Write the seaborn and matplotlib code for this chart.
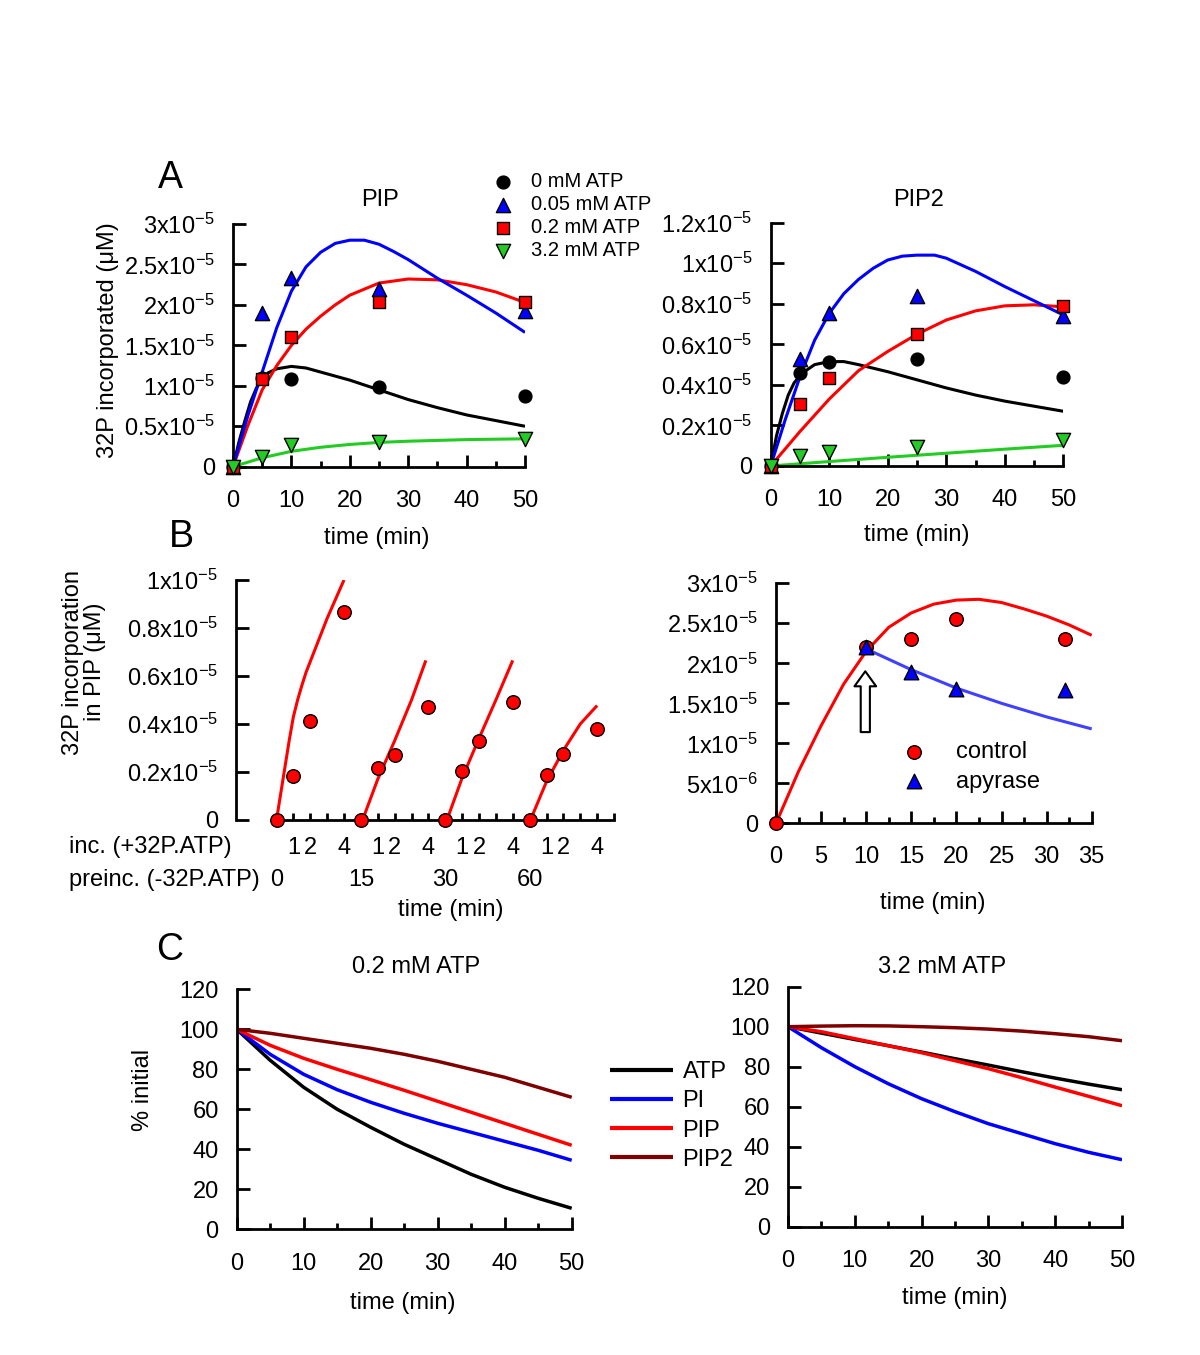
import matplotlib
matplotlib.use("Agg")
import matplotlib.pyplot as plt
import matplotlib.transforms as mtransforms
from matplotlib.ticker import MultipleLocator
import numpy as np
import seaborn as sns

# ======================= DATA =======================
E5 = 1e-5  # values below are in units of 1x10^-5 uM

# ---- Panel A (PIP / PIP2 time course at four ATP levels) ----
a_times = [0, 5, 10, 25, 50]
atp_labels = ["0 mM ATP", "0.05 mM ATP", "0.2 mM ATP", "3.2 mM ATP"]

pip_pts_0 = [0, 1.10, 1.09, 0.99, 0.87]
pip_pts_005 = [0, 1.90, 2.33, 2.20, 1.92]
pip_pts_02 = [0, 1.08, 1.60, 2.03, 2.03]
pip_pts_32 = [0, 0.12, 0.27, 0.31, 0.34]

pip_fit_0_t = [0, 1, 2, 3, 4, 5, 6, 7.5, 10, 12.5, 15, 20, 25, 30, 35, 40, 45, 50]
pip_fit_0 = [0, 0.30, 0.56, 0.80, 0.97, 1.09, 1.16, 1.21, 1.24, 1.22, 1.17, 1.07, 0.95, 0.83, 0.73, 0.64, 0.57, 0.50]
pip_fit_005_t = [0, 2.5, 5, 7.5, 10, 12.5, 15, 17.5, 20, 22.5, 25, 27.5, 30, 35, 40, 45, 50]
pip_fit_005 = [0, 0.62, 1.17, 1.72, 2.17, 2.47, 2.65, 2.76, 2.80, 2.80, 2.75, 2.66, 2.56, 2.33, 2.12, 1.90, 1.66]
pip_fit_02_t = [0, 2.5, 5, 7.5, 10, 12.5, 15, 17.5, 20, 25, 30, 35, 40, 45, 50]
pip_fit_02 = [0, 0.50, 0.95, 1.25, 1.50, 1.70, 1.86, 2.00, 2.12, 2.27, 2.32, 2.31, 2.25, 2.16, 2.03]
pip_fit_32_t = [0, 5, 10, 15, 20, 25, 30, 35, 40, 45, 50]
pip_fit_32 = [0, 0.11, 0.19, 0.24, 0.275, 0.30, 0.315, 0.325, 0.335, 0.34, 0.345]

pip2_pts_0 = [0, 0.457, 0.515, 0.528, 0.437]
pip2_pts_005 = [0, 0.526, 0.756, 0.838, 0.740]
pip2_pts_02 = [0, 0.306, 0.434, 0.651, 0.789]
pip2_pts_32 = [0, 0.050, 0.070, 0.092, 0.128]

pip2_fit_0_t = [0, 1, 2, 3, 4, 5, 6, 7.5, 10, 12.5, 15, 20, 25, 30, 35, 40, 45, 50]
pip2_fit_0 = [0, 0.15, 0.26, 0.35, 0.41, 0.445, 0.47, 0.50, 0.515, 0.515, 0.50, 0.465, 0.425, 0.385, 0.35, 0.32, 0.295, 0.27]
pip2_fit_005_t = [0, 2.5, 5, 7.5, 10, 12.5, 15, 17.5, 20, 22.5, 25, 28, 30, 35, 40, 45, 50]
pip2_fit_005 = [0, 0.23, 0.44, 0.62, 0.753, 0.85, 0.92, 0.975, 1.016, 1.035, 1.04, 1.04, 1.025, 0.96, 0.885, 0.815, 0.745]
pip2_fit_02_t = [0, 5, 10, 15, 20, 25, 30, 35, 40, 45, 50]
pip2_fit_02 = [0, 0.17, 0.33, 0.47, 0.565, 0.65, 0.72, 0.765, 0.79, 0.795, 0.785]
pip2_fit_32_t = [0, 10, 20, 30, 40, 50]
pip2_fit_32 = [0, 0.022, 0.043, 0.063, 0.083, 0.102]

a1_yticks = [0, 0.5, 1, 1.5, 2, 2.5, 3]
a1_yticklabels = ["0", "0.5x10$^{-5}$", "1x10$^{-5}$", "1.5x10$^{-5}$",
                  "2x10$^{-5}$", "2.5x10$^{-5}$", "3x10$^{-5}$"]
a2_yticks = [0, 0.2, 0.4, 0.6, 0.8, 1.0, 1.2]
a2_yticklabels = ["0", "0.2x10$^{-5}$", "0.4x10$^{-5}$", "0.6x10$^{-5}$",
                  "0.8x10$^{-5}$", "1x10$^{-5}$", "1.2x10$^{-5}$"]

# ---- Panel B left (preincubation without label, then +32P-ATP) ----
b1_g1_t = [0, 1, 2, 4]
b1_g1 = [0, 0.182, 0.413, 0.867]
b1_g2_t = [5, 6, 7, 9]
b1_g2 = [0, 0.217, 0.270, 0.471]
b1_g3_t = [10, 11, 12, 14]
b1_g3 = [0, 0.206, 0.329, 0.490]
b1_g4_t = [15, 16, 17, 19]
b1_g4 = [0, 0.189, 0.273, 0.378]

b1_fit1_t = [0, 0.25, 0.5, 0.75, 1, 1.25, 1.5, 1.75, 2, 2.5, 3, 3.5, 4]
b1_fit1 = [0, 0.11, 0.22, 0.33, 0.43, 0.50, 0.56, 0.615, 0.66, 0.75, 0.84, 0.92, 1.00]
b1_fit2_t = [5.1, 6, 7, 8, 8.85]
b1_fit2 = [0, 0.17, 0.33, 0.50, 0.665]
b1_fit3_t = [10.1, 11, 12, 13, 14]
b1_fit3 = [0, 0.175, 0.34, 0.50, 0.665]
b1_fit4_t = [15.05, 16, 17, 18, 19]
b1_fit4 = [0, 0.16, 0.29, 0.40, 0.477]

b1_xticks = list(range(0, 21))
b1_inc_labels = ["", "1", "2", "", "4", "", "1", "2", "", "4", "",
                 "1", "2", "", "4", "", "1", "2", "", "4", ""]
b1_preinc_pos = [0, 5, 10, 15]
b1_preinc_labels = ["0", "15", "30", "60"]
b1_yticks = [0, 0.2, 0.4, 0.6, 0.8, 1.0]
b1_yticklabels = ["0", "0.2x10$^{-5}$", "0.4x10$^{-5}$", "0.6x10$^{-5}$",
                  "0.8x10$^{-5}$", "1x10$^{-5}$"]

# ---- Panel B right (control vs apyrase) ----
b2_control_t = [0, 10, 15, 20, 32]
b2_control = [0, 2.20, 2.30, 2.55, 2.30]
b2_apyrase_t = [10, 15, 20, 32]
b2_apyrase = [2.20, 1.89, 1.68, 1.66]
b2_fit_control_t = [0, 2.5, 5, 7.5, 10, 12.5, 15, 17.5, 20, 22.5, 25, 27.5, 30, 32.5, 35]
b2_fit_control = [0, 0.65, 1.22, 1.74, 2.15, 2.45, 2.63, 2.74, 2.79, 2.80, 2.76, 2.68, 2.59, 2.48, 2.35]
b2_fit_apyrase_t = [10, 15, 20, 25, 30, 35]
b2_fit_apyrase = [2.18, 1.92, 1.69, 1.50, 1.33, 1.18]
b2_arrow_x = 9.9
b2_arrow_from = 1.14
b2_arrow_to = 1.90
b2_yticks = [0, 0.5, 1, 1.5, 2, 2.5, 3]
b2_yticklabels = ["0", "5x10$^{-6}$", "1x10$^{-5}$", "1.5x10$^{-5}$",
                  "2x10$^{-5}$", "2.5x10$^{-5}$", "3x10$^{-5}$"]

# ---- Panel C (% of initial) ----
c_t = [0, 5, 10, 15, 20, 25, 30, 35, 40, 45, 50]
species = ["ATP", "PI", "PIP", "PIP2"]
c02_atp = [100, 84.5, 71, 60, 51, 42.5, 35, 27.5, 21, 15.5, 10.5]
c02_pi = [100, 87.5, 77.5, 69.8, 63.5, 58, 53, 48.5, 44, 39.5, 34.5]
c02_pip = [100, 92, 85.5, 80, 74.8, 69.5, 64, 58.5, 53, 47.5, 42]
c02_pip2 = [100, 98, 95.5, 93, 90.5, 87.5, 84, 80, 76, 71, 66]
c32_atp = [100, 96.8, 93.6, 90.5, 87.3, 84, 80.8, 77.5, 74.3, 71.3, 68.5]
c32_pi = [100, 89.5, 80, 71.5, 64, 57.5, 51.5, 46.5, 41.5, 37.2, 33.5]
c32_pip = [100, 97.5, 94, 90.5, 87, 83, 79, 74.5, 69.8, 65.2, 60.5]
c32_pip2 = [100, 100.3, 100.5, 100.4, 100, 99.5, 98.8, 97.8, 96.5, 95, 93]
c_yticks = [0, 20, 40, 60, 80, 100, 120]

# ======================= STYLE =======================
sns.set_theme(style="ticks")
plt.rcParams.update({
    "font.family": ["Liberation Sans", "DejaVu Sans"],
    "mathtext.fontset": "custom",
    "mathtext.rm": "Liberation Sans",
    "mathtext.it": "Liberation Sans:italic",
    "mathtext.bf": "Liberation Sans:bold",
    "mathtext.default": "regular",
    "axes.linewidth": 2,
    "font.size": 17,
    "text.color": "black",
    "axes.labelcolor": "black",
    "xtick.color": "black",
    "ytick.color": "black",
    "axes.unicode_minus": True,
    "lines.solid_joinstyle": "round",
    "lines.solid_capstyle": "butt",
})
FS = 17
BLACK, BLUE, RED, GREEN, DARKRED = "#000000", "#0000ff", "#ff0000", "#22cc22", "#7f0000"
BLUE2 = "#4040ff"

W, H = 1200, 1355
fig = plt.figure(figsize=(12, 13.55), dpi=100)
fig.patch.set_facecolor("white")


def axes_px(x0, x1, yb, yt):
    return fig.add_axes([x0 / W, 1 - yb / H, (x1 - x0) / W, (yb - yt) / H])


def style_axes(ax, xpad=16.5):
    sns.despine(ax=ax)
    for s in ("left", "bottom"):
        ax.spines[s].set_linewidth(2)
        ax.spines[s].set_color("black")
    ax.tick_params(axis="both", which="both", direction="in", width=2,
                   color="black", labelcolor="black", labelsize=FS)
    ax.tick_params(axis="y", which="major", length=9, pad=13)
    ax.tick_params(axis="x", which="major", length=9, pad=xpad)
    ax.tick_params(axis="x", which="minor", length=4.5)
    ax.set_facecolor("none")
    ax.grid(False)


def place_labels(ax, xlabel, xl, ylabel=None, yl=None, title=None, tl=None):
    ax.set_xlabel(xlabel, fontsize=FS, color="black")
    ax.xaxis.set_label_coords(*xl)
    ax.xaxis.label.set_va("center")
    if ylabel is not None:
        ax.set_ylabel(ylabel, fontsize=FS, linespacing=1.0, color="black")
        ax.yaxis.set_label_coords(*yl)
        ax.yaxis.label.set_va("center")
    else:
        ax.set_ylabel("")
    if title is not None:
        ax.set_title(title, fontsize=FS, x=tl[0], y=tl[1], va="center", pad=0, color="black")


def line(ax, x, y, color, lw=2.2, scale=E5, label=None):
    sns.lineplot(x=x, y=np.asarray(y) * scale, ax=ax, color=color, linewidth=lw,
                 estimator=None, sort=False, label=label, legend=False)


def pts(ax, x, y, color, marker, s, scale=E5, label=None, z=4):
    sns.scatterplot(x=x, y=np.asarray(y) * scale, ax=ax, color=color, marker=marker,
                    s=s, edgecolor="black", linewidth=1.0, zorder=z, clip_on=False,
                    label=label, legend=False)


# ======================= PANEL A left: PIP =======================
axA1 = axes_px(233, 525, 466.7, 224)
line(axA1, pip_fit_0_t, pip_fit_0, BLACK)
line(axA1, pip_fit_02_t, pip_fit_02, RED)
line(axA1, pip_fit_005_t, pip_fit_005, BLUE)
line(axA1, pip_fit_32_t, pip_fit_32, GREEN)
pts(axA1, a_times, pip_pts_0, BLACK, "o", 85, label=atp_labels[0], z=4)
pts(axA1, a_times, pip_pts_005, BLUE, "^", 105, label=atp_labels[1], z=5)
pts(axA1, a_times, pip_pts_02, RED, "s", 70, label=atp_labels[2], z=6)
pts(axA1, a_times, pip_pts_32, GREEN, "v", 105, label=atp_labels[3], z=7)
axA1.set_xlim(0, 50)
axA1.set_ylim(0, 3 * E5)
axA1.xaxis.set_major_locator(MultipleLocator(10))
axA1.xaxis.set_minor_locator(MultipleLocator(5))
axA1.set_yticks(np.asarray(a1_yticks) * E5, labels=a1_yticklabels)
style_axes(axA1)
place_labels(axA1, "time (min)", (0.492, -0.295),
             "32P incorporated (\u03bcM)", (-0.428, 0.522), "PIP", (0.503, 1.099))

handles, labels = axA1.get_legend_handles_labels()
legA = axA1.legend(handles, labels, loc="center left",
                   bbox_to_anchor=(493.2 / W, 1 - 216 / H), bbox_transform=fig.transFigure,
                   frameon=False, fontsize=14.5, handlelength=1.0, handletextpad=0.9,
                   labelspacing=0.2, borderpad=0, borderaxespad=0)

# ======================= PANEL A right: PIP2 =======================
axA2 = axes_px(770.7, 1063.3, 466, 222.7)
line(axA2, pip2_fit_0_t, pip2_fit_0, BLACK)
line(axA2, pip2_fit_02_t, pip2_fit_02, RED)
line(axA2, pip2_fit_005_t, pip2_fit_005, BLUE)
line(axA2, pip2_fit_32_t, pip2_fit_32, GREEN)
pts(axA2, a_times, pip2_pts_0, BLACK, "o", 85, z=4)
pts(axA2, a_times, pip2_pts_005, BLUE, "^", 105, z=5)
pts(axA2, a_times, pip2_pts_02, RED, "s", 70, z=6)
pts(axA2, a_times, pip2_pts_32, GREEN, "v", 105, z=7)
axA2.set_xlim(0, 50)
axA2.set_ylim(0, 1.2 * E5)
axA2.xaxis.set_major_locator(MultipleLocator(10))
axA2.xaxis.set_minor_locator(MultipleLocator(5))
axA2.set_yticks(np.asarray(a2_yticks) * E5, labels=a2_yticklabels)
style_axes(axA2)
place_labels(axA2, "time (min)", (0.499, -0.284), title="PIP2", tl=(0.504, 1.093))

# ======================= PANEL B left =======================
axB1 = axes_px(236, 614, 820, 580)
for ft, fv in [(b1_fit1_t, b1_fit1), (b1_fit2_t, b1_fit2), (b1_fit3_t, b1_fit3), (b1_fit4_t, b1_fit4)]:
    line(axB1, ft, fv, RED)
for gt, gv in [(b1_g1_t, b1_g1), (b1_g2_t, b1_g2), (b1_g3_t, b1_g3), (b1_g4_t, b1_g4)]:
    pts(axB1, gt, gv, RED, "o", 95)
axB1.set_xlim(-2.4, 20)
axB1.set_ylim(0, 1.0 * E5)
axB1.set_xticks(b1_xticks, labels=b1_inc_labels)
axB1.set_yticks(np.asarray(b1_yticks) * E5, labels=b1_yticklabels)
style_axes(axB1, xpad=12.5)
axB1.tick_params(axis="x", which="major", length=5)
axB1.spines["bottom"].set_bounds(0, 20)
place_labels(axB1, "time (min)", (0.569, -0.375),
             "32P incorporation\nin PIP (\u03bcM)", (-0.403, 0.658))
blend = mtransforms.blended_transform_factory(axB1.transData, axB1.transAxes)
for pos, lab in zip(b1_preinc_pos, b1_preinc_labels):
    axB1.text(pos, -0.25, lab, transform=blend, ha="center", va="center", fontsize=FS)
axB1.text(-0.442, -0.1125, "inc. (+32P.ATP)", transform=axB1.transAxes,
          ha="left", va="center", fontsize=FS)
axB1.text(-0.442, -0.25, "preinc. (-32P.ATP)", transform=axB1.transAxes,
          ha="left", va="center", fontsize=FS)

# ======================= PANEL B right =======================
axB2 = axes_px(776, 1091.7, 823.3, 583.3)
line(axB2, b2_fit_control_t, b2_fit_control, RED)
line(axB2, b2_fit_apyrase_t, b2_fit_apyrase, BLUE2)
pts(axB2, b2_control_t, b2_control, RED, "o", 95, label="control", z=4)
pts(axB2, b2_apyrase_t, b2_apyrase, BLUE, "^", 110, label="apyrase", z=5)
axB2.annotate("", xy=(b2_arrow_x, b2_arrow_to * E5), xytext=(b2_arrow_x, b2_arrow_from * E5),
              arrowprops=dict(arrowstyle="simple,head_length=0.9,head_width=1.3,tail_width=0.55",
                              facecolor="white", edgecolor="black", linewidth=1.5,
                              shrinkA=0, shrinkB=0, mutation_scale=12))
axB2.set_xlim(0, 35)
axB2.set_ylim(0, 3 * E5)
axB2.xaxis.set_major_locator(MultipleLocator(5))
axB2.xaxis.set_minor_locator(MultipleLocator(2.5))
axB2.set_yticks(np.asarray(b2_yticks) * E5, labels=b2_yticklabels)
style_axes(axB2)
place_labels(axB2, "time (min)", (0.498, -0.333))
h2, l2 = axB2.get_legend_handles_labels()
axB2.legend(h2, l2, loc="center left", bbox_to_anchor=(901.8 / W, 1 - 767 / H),
            bbox_transform=fig.transFigure, frameon=False, fontsize=FS,
            handlelength=1.0, handletextpad=1.3, labelspacing=0.3,
            borderpad=0, borderaxespad=0)

# ======================= PANEL C left: 0.2 mM ATP =======================
c_colors = [BLACK, BLUE, RED, DARKRED]
axC1 = axes_px(236.7, 571.7, 1229.3, 989.3)
for sp_name, vals, col in zip(species, [c02_atp, c02_pi, c02_pip, c02_pip2], c_colors):
    line(axC1, c_t, vals, col, lw=2.5, scale=1, label=sp_name)
axC1.set_xlim(0, 50)
axC1.set_ylim(0, 120)
axC1.xaxis.set_major_locator(MultipleLocator(10))
axC1.xaxis.set_minor_locator(MultipleLocator(5))
axC1.set_yticks(c_yticks)
style_axes(axC1, xpad=17)
place_labels(axC1, "time (min)", (0.497, -0.308), "% initial", (-0.281, 0.580),
             "0.2 mM ATP", (0.534, 1.094))
hc, lc = axC1.get_legend_handles_labels()
legC = axC1.legend(hc, lc, loc="center left", bbox_to_anchor=(610 / W, 1 - 1116 / H),
                   bbox_transform=fig.transFigure, frameon=False, fontsize=FS,
                   handlelength=2.65, handletextpad=0.42, labelspacing=0.3,
                   borderpad=0, borderaxespad=0)
for lg in legC.get_lines():
    lg.set_linewidth(3)

# ======================= PANEL C right: 3.2 mM ATP =======================
axC2 = axes_px(788, 1122, 1226.7, 986.7)
for sp_name, vals, col in zip(species, [c32_atp, c32_pi, c32_pip, c32_pip2], c_colors):
    line(axC2, c_t, vals, col, lw=2.5, scale=1)
axC2.set_xlim(0, 50)
axC2.set_ylim(0, 120)
axC2.xaxis.set_major_locator(MultipleLocator(10))
axC2.xaxis.set_minor_locator(MultipleLocator(5))
axC2.set_yticks(c_yticks)
style_axes(axC2)
place_labels(axC2, "time (min)", (0.5, -0.297), title="3.2 mM ATP", tl=(0.46, 1.083))

# ======================= panel letters =======================
for letter, (px, py) in zip(["A", "B", "C"], [(170, 178), (181, 537), (170, 950)]):
    fig.text(px / W, 1 - py / H, letter, fontsize=27, ha="center", va="center", color="black")

fig.savefig("out.png", dpi=100, facecolor="white")
